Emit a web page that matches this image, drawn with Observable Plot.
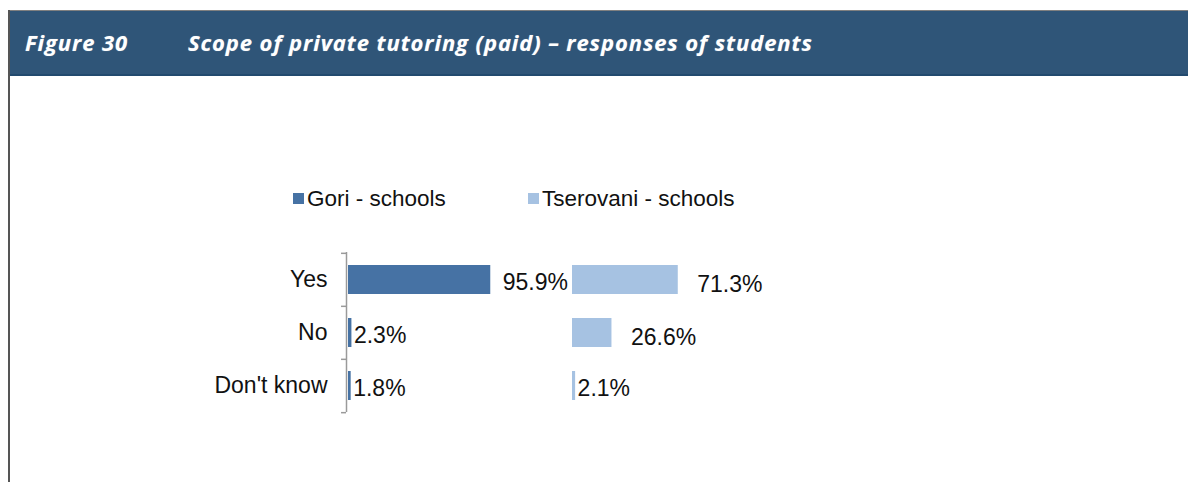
<!DOCTYPE html>
<html>
<head>
<meta charset="utf-8">
<script src="https://cdn.jsdelivr.net/npm/d3@7"></script>
<script src="https://cdn.jsdelivr.net/npm/@observablehq/plot@0.6"></script>
<style>
  html, body { margin: 0; padding: 0; background: #fff; }
  #page { position: relative; width: 1188px; height: 482px; overflow: hidden; background: #fff; font-family: "Liberation Sans", Arial, sans-serif; }
  #header { position: absolute; left: 8px; top: 10px; width: 1180px; height: 66px; background: #2f5578; border-top: 1px solid #808080; border-bottom: 2px solid #224a6e; box-sizing: border-box; }
  #leftline { position: absolute; left: 8px; top: 10px; width: 2px; height: 472px; background: #555; }
  .ttl { position: absolute; top: 27px; color: #fff; font-family: "Open Sans", sans-serif; font-style: italic; font-weight: 700; font-size: 22px; letter-spacing: 0.9px; white-space: nowrap; text-shadow: 0 0 1px rgba(255,255,255,0.4); }
  #legend { position: absolute; top: 186px; left: 0; font-size: 22.5px; color: #111; }
  .li { position: absolute; white-space: nowrap; }
  .sw { position: absolute; width: 11px; height: 11px; }
  #chart { position: absolute; left: 0; top: 230px; }
</style>
</head>
<body>
<div id="page">
  <div id="header"></div>
  <div id="leftline"></div>
  <div class="ttl" id="fig" style="left:25px">Figure 30</div>
  <div class="ttl" id="ttl" style="left:188px">Scope of private tutoring (paid) – responses of students</div>
  <div id="legend"></div>
  <div id="chart"></div>
</div>
<script>
const categories = ["Yes", "No", "Don't know"];
const series = ["Gori - schools", "Tserovani - schools"];
const gori = [95.9, 2.3, 1.8];
const tserovani = [71.3, 26.6, 2.1];
const colors = ["#4672a4", "#a6c2e2"];

const data = categories.flatMap((c, i) => [
  {series: series[0], answer: c, value: gori[i]},
  {series: series[1], answer: c, value: tserovani[i]}
]);

// legend
const legend = document.getElementById("legend");
const legendPos = [{sw: 293, tx: 307}, {sw: 528, tx: 542}];
series.forEach((s, i) => {
  const sw = document.createElement("div");
  sw.className = "sw";
  sw.style.left = legendPos[i].sw + "px";
  sw.style.top = "7px";
  sw.style.background = colors[i];
  legend.appendChild(sw);
  const t = document.createElement("div");
  t.className = "li";
  t.style.left = legendPos[i].tx + "px";
  t.style.top = "0px";
  t.textContent = s;
  legend.appendChild(t);
});

const first = () => series[0];
const step = 160 / 3;

const chart = Plot.plot({
  width: 1188,
  height: 200,
  marginLeft: 347,
  marginRight: 392,
  marginTop: 22,
  marginBottom: 18,
  style: {fontFamily: "'Liberation Sans', Arial, sans-serif", fontSize: "23px", color: "#111", background: "transparent"},
  fx: {domain: series, padding: 0, axis: null},
  x: {domain: [0, 151], axis: null},
  y: {domain: categories, paddingInner: 0.46, paddingOuter: 0.23, axis: null},
  color: {domain: series, range: colors},
  marks: [
    Plot.barX(data, {fx: "series", y: "answer", x: "value", fill: "series"}),
    Plot.ruleX([0], {fx: first, stroke: "#9a9a9a", strokeWidth: 1.5, dx: -2}),
    Plot.ruleY(categories, {fx: first, y: d => d, x1: -4.7, x2: -1.3, dy: -step / 2, stroke: "#9a9a9a", strokeWidth: 1.5}),
    Plot.ruleY(categories.slice(-1), {fx: first, y: d => d, x1: -4.7, x2: -1.3, dy: step / 2, stroke: "#9a9a9a", strokeWidth: 1.5}),
    Plot.axisY({fx: first, tickSize: 0, tickPadding: 21, fontSize: 23, color: "#111", label: null}),
    Plot.text(data.filter(d => d.value >= 10 && d.series === series[0]), {fx: "series", y: "answer", x: "value", text: d => d.value.toFixed(1) + "%", textAnchor: "start", dx: 12, dy: 3, fontSize: 23, fill: "#111"}),
    Plot.text(data.filter(d => d.value >= 10 && d.series === series[1]), {fx: "series", y: "answer", x: "value", text: d => d.value.toFixed(1) + "%", textAnchor: "start", dx: 19, dy: 5, fontSize: 23, fill: "#111"}),
    Plot.text(data.filter(d => d.value < 10), {fx: "series", y: "answer", x: "value", text: d => d.value.toFixed(1) + "%", textAnchor: "start", dx: 2, dy: 3, fontSize: 23, fill: "#111"})
  ]
});
document.getElementById("chart").appendChild(chart);
</script>
</body>
</html>
